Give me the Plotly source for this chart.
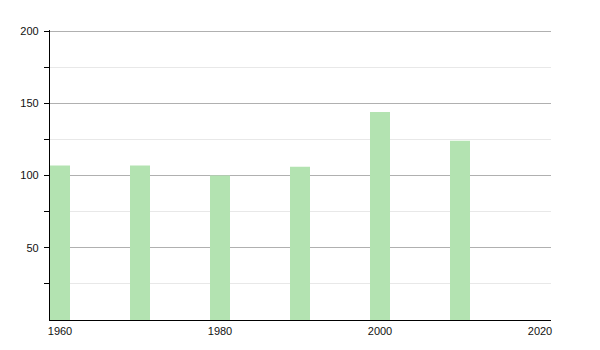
import plotly.graph_objects as go

years = [1960, 1970, 1980, 1990, 2000, 2010]
values = [107, 107, 100, 106, 144, 124]
x_ticks = [1960, 1980, 2000, 2020]
y_ticks = [50, 100, 150, 200]

fig = go.Figure()
fig.add_trace(go.Bar(
    x=years, y=values, width=2.5,
    marker=dict(color="#b3e3b1", line=dict(width=0)),
    hoverinfo="x+y",
))

fig.update_layout(
    width=600, height=350,
    margin=dict(l=50, r=49, t=30, b=30),
    paper_bgcolor="white", plot_bgcolor="white",
    showlegend=False,
    font=dict(family="Liberation Sans, Arial, sans-serif", size=11, color="#111"),
    xaxis=dict(
        range=[1958.75, 2021.375],
        tickvals=x_ticks, ticktext=[str(t) for t in x_ticks],
        showgrid=False, zeroline=False,
        showline=True, linecolor="black", linewidth=1.3,
        ticks="", ticklabelstandoff=1,
    ),
    yaxis=dict(
        range=[0, 200.7],
        tickvals=y_ticks,
        showgrid=True, gridcolor="#b0b0b0", gridwidth=1,
        zeroline=False,
        showline=True, linecolor="black", linewidth=1.3,
        ticks="outside", ticklen=5, tickcolor="black",
        ticklabelstandoff=3,
        minor=dict(tickvals=[25, 75, 125, 175], showgrid=True,
                   gridcolor="#e8e8e8", gridwidth=1,
                   ticks="outside", ticklen=5, tickcolor="black"),
    ),
)

fig.write_html("out.html")
